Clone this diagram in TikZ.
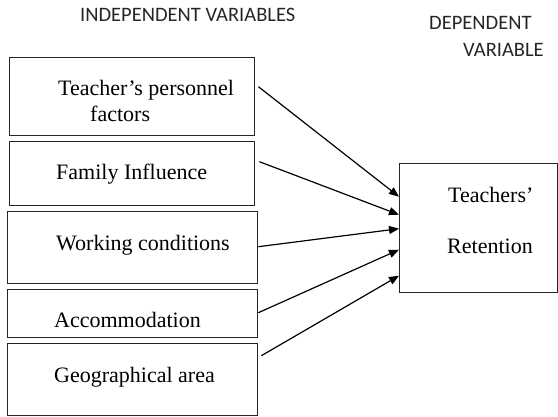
\documentclass[tikz,border=0pt]{standalone}
\usepackage{fontspec}
\setmainfont{Liberation Serif}
\newfontfamily\headfont{Carlito}
\usetikzlibrary{arrows.meta,calc}

\begin{document}
\begin{tikzpicture}[x=1pt,y=-1pt,
  box/.style={draw=black!85,line width=1.4pt,inner sep=0pt,anchor=north west},
  lbl/.style={inner sep=0pt,anchor=base west,font=\fontsize{22}{26}\selectfont},
  head/.style={inner sep=0pt,anchor=base west,text=black!85,font=\headfont\fontsize{20.5}{24}\selectfont},
  link/.style={line width=1.2pt,-{Triangle[length=10pt,width=8pt]}}]

\useasboundingbox (0,0) rectangle (558,417);

% headings
\node[head] (hind) at (80,22) {INDEPENDENT VARIABLES};
\node[head] (hdep1) at (429,30) {DEPENDENT};
\node[head] (hdep2) at (463,57) {VARIABLE};

% independent variable boxes
\node[box,minimum width=245pt,minimum height=78pt] (b1) at (9,57) {};
\node[box,minimum width=245pt,minimum height=64pt] (b2) at (9,141) {};
\node[box,minimum width=250pt,minimum height=72pt] (b3) at (7,211) {};
\node[box,minimum width=250pt,minimum height=48pt] (b4) at (7,289) {};
\node[box,minimum width=250pt,minimum height=72pt] (b5) at (7,343) {};

% dependent variable box
\node[box,minimum width=158pt,minimum height=129pt] (t) at (399,163) {};

% box texts
\node[lbl] (l1a) at (58,96) {Teacher’s personnel};
\node[lbl] (l1b) at (90,122) {factors};
\node[lbl] (l2) at (56,179.5) {Family Influence};
\node[lbl] (l3) at (56,250.5) {Working conditions};
\node[lbl] (l4) at (54,328) {Accommodation};
\node[lbl] (l5) at (54,382.5) {Geographical area};
\node[lbl] (lt1) at (448,203) {Teachers’};
\node[lbl] (lt2) at (447,254) {Retention};

% connectors into the dependent variable
\draw[link] ($(b1.east)+(3,-10)$) -- ($(t.west)+(0,-31.5)$);
\draw[link] ($(b2.east)+(4,-12)$) -- ($(t.west)+(0,-13.5)$);
\draw[link] ($(b3.east)+(0,-1)$)  -- ($(t.west)+(0,0.5)$);
\draw[link] ($(b4.east)+(0,-1)$)  -- ($(t.west)+(0,21.5)$);
\draw[link] ($(b5.east)+(3,-24)$) -- ($(t.west)+(0,47.5)$);

\end{tikzpicture}
\end{document}
